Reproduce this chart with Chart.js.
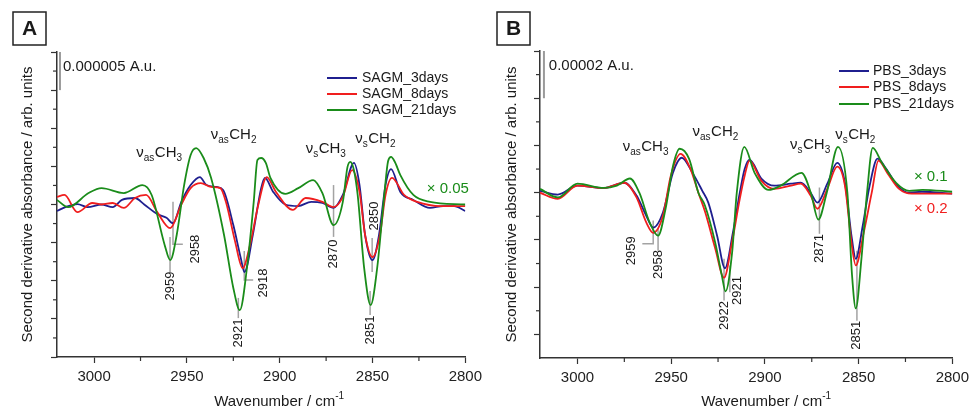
<!DOCTYPE html>
<html>
<head>
<meta charset="utf-8">
<script src="https://cdn.jsdelivr.net/npm/chart.js@4.4.0/dist/chart.umd.min.js"></script>
<style>
body { margin: 0; background: #fff; }
#wrap { position: relative; width: 974px; height: 411px; }
.panel { position: absolute; top: 0; width: 487px; height: 411px; }
</style>
</head>
<body>
<div id="wrap">
  <div class="panel" style="left:0"><canvas id="chartA"></canvas></div>
  <div class="panel" style="left:487px"><canvas id="chartB"></canvas></div>
</div>
<script>
// ---- data (wavenumber / cm-1, second derivative in arb. units) ----
const xTicks = [3000, 2950, 2900, 2850, 2800]
const xMinor = [2975, 2925, 2875, 2825]

// panel A : SAGM
const sagm3Wn = [3020, 3015.5, 3009, 3003.5, 2996, 2990, 2985, 2978, 2973, 2966, 2961, 2957.5, 2953, 2948, 2943, 2939.5, 2934, 2930.5, 2925, 2921, 2919, 2914.5, 2910, 2908, 2903.5, 2897, 2890, 2883, 2877, 2871, 2866, 2860, 2857, 2854, 2850, 2846.5, 2843, 2840, 2835, 2828, 2819, 2812, 2806, 2800]
const sagm3Val = [-0.17, -0.07, 0.01, -0.07, 0.00, -0.07, 0.12, 0.17, 0.00, -0.25, -0.35, -0.49, 0.07, 0.51, 0.72, 0.51, 0.46, 0.38, -0.54, -1.40, -1.77, -0.80, 0.43, 0.70, 0.33, 0.00, -0.04, 0.07, 0.04, -0.09, 0.25, 1.09, 0.51, -0.80, -1.46, -0.80, 0.51, 0.93, 0.33, 0.12, -0.09, -0.04, -0.04, -0.17]

const sagm8Wn = [3020, 3016, 3009, 3001, 2996, 2990, 2984, 2978, 2972, 2966, 2959, 2953, 2948, 2942.5, 2937, 2932, 2929, 2924, 2920, 2916, 2911.5, 2907, 2902, 2893, 2886, 2877, 2871, 2866, 2861, 2857, 2854, 2850, 2846, 2843, 2839.5, 2833, 2826, 2813, 2800]
const sagm8Val = [0.20, 0.25, -0.20, 0.04, 0.00, 0.04, -0.09, 0.17, 0.25, -0.20, -0.62, 0.00, 0.43, 0.56, 0.46, 0.43, 0.07, -0.98, -1.67, -1.06, 0.00, 0.72, 0.33, -0.14, 0.17, 0.07, -0.07, 0.20, 0.90, 0.33, -0.80, -1.38, -0.80, 0.25, 0.70, 0.25, 0.07, -0.04, -0.04]

const sagm21Wn = [3020, 3014, 3003, 2996, 2984, 2974, 2969, 2962, 2959, 2955.5, 2951.5, 2948, 2945, 2941, 2937, 2930, 2925, 2921.5, 2917.5, 2914, 2912, 2910, 2907.5, 2905, 2897, 2890, 2882, 2877, 2871, 2866, 2863.5, 2862, 2860, 2858, 2854.5, 2851, 2847.5, 2844, 2841.6, 2840, 2838, 2835, 2828, 2819, 2800]
const sagm21Val = [0.12, -0.07, 0.30, 0.43, 0.30, 0.51, 0.25, -1.06, -1.46, -0.80, 0.51, 1.30, 1.48, 1.22, 0.70, -0.80, -2.19, -2.77, -1.60, 0.07, 1.17, 1.22, 1.09, 0.70, 0.28, 0.43, 0.64, 0.30, -0.54, 0.07, 0.98, 1.12, 0.90, 0.25, -1.67, -2.64, -1.67, 0.07, 1.14, 1.25, 1.12, 0.77, 0.25, 0.07, 0.00]

// panel B : PBS
const pbs3Wn = [3020, 3010.5, 3000, 2986, 2975, 2968.5, 2963.3, 2959.6, 2954.4, 2949.1, 2944.4, 2938.6, 2933.4, 2930.2, 2925.5, 2921.3, 2917.1, 2913.4, 2910.8, 2908.2, 2901.9, 2895, 2886.1, 2880.9, 2875.6, 2872, 2866.7, 2861.4, 2857.3, 2853.6, 2851.5, 2847.8, 2844.1, 2839.9, 2835.2, 2829.4, 2823.1, 2816.3, 2800]
const pbs3Val = [0.04, -0.04, 0.15, 0.10, 0.21, -0.06, -0.49, -0.74, -0.42, 0.42, 0.74, 0.42, 0.04, -0.21, -0.91, -1.60, -0.85, 0.00, 0.50, 0.70, 0.30, 0.15, 0.19, 0.21, 0.00, -0.21, 0.19, 0.63, 0.21, -0.97, -1.40, -0.70, 0.15, 0.72, 0.50, 0.15, 0.00, 0.02, -0.02]

const pbs8Wn = [3020, 3010.5, 3000, 2986, 2975, 2968.5, 2963.3, 2959.6, 2954.4, 2950.2, 2945, 2939.7, 2935.5, 2931.8, 2926.5, 2921.8, 2917.6, 2913.4, 2910.8, 2908.2, 2901.9, 2895, 2886.1, 2880.9, 2875.6, 2872, 2866.7, 2861.4, 2857.3, 2853.6, 2851.5, 2847.3, 2843, 2839.4, 2834.7, 2828.4, 2821.6, 2800]
const pbs8Val = [0.00, -0.13, 0.15, 0.10, 0.21, -0.10, -0.63, -0.85, -0.49, 0.36, 0.82, 0.50, 0.00, -0.42, -1.18, -1.80, -1.06, -0.13, 0.36, 0.68, 0.25, 0.08, 0.15, 0.19, -0.06, -0.34, 0.08, 0.55, 0.15, -1.12, -1.54, -0.85, 0.00, 0.68, 0.42, 0.08, -0.02, -0.02]

const pbs21Wn = [3020, 3010.5, 3000, 2986, 2979, 2972, 2967, 2961.5, 2957, 2953, 2949, 2945.5, 2940.5, 2935.5, 2932, 2926.5, 2923, 2921, 2917.5, 2915, 2911, 2905.5, 2898, 2891.5, 2880.5, 2875.5, 2871.5, 2867, 2861, 2856, 2853.5, 2851.5, 2848.5, 2845.5, 2842.5, 2837.5, 2830, 2823, 2816, 2800]
const pbs21Val = [0.08, -0.10, 0.19, 0.10, 0.15, 0.30, 0.00, -0.63, -0.91, -0.34, 0.57, 0.93, 0.72, 0.00, -0.27, -1.06, -1.75, -2.09, -1.27, 0.00, 0.97, 0.42, 0.06, 0.15, 0.42, 0.00, -0.57, 0.00, 0.97, 0.00, -1.75, -2.45, -1.40, 0.00, 0.95, 0.63, 0.21, 0.04, 0.06, 0.02]

const FONT = '"Liberation Sans", Arial, sans-serif'
const BLUE = '#1f1f8f', RED = '#f01e1e', GREEN = '#1a8c1a'

function pts(wn, val) {
	return wn.map((w, i) => ({ x: w, y: val[i] }))
}

function series(label, wn, val, color, order) {
	return {
		label: label, data: pts(wn, val), borderColor: color, borderWidth: 1.8,
		pointRadius: 0, fill: false, cubicInterpolationMode: 'monotone', order: order
	}
}

function seg(ctx, x1, y1, x2, y2) {
	ctx.beginPath(); ctx.moveTo(x1, y1); ctx.lineTo(x2, y2); ctx.stroke()
}

function drawBand(ctx, x, y, sub, num) {
	let cx = x
	const big = '15px ' + FONT, small = '10px ' + FONT
	ctx.font = big; ctx.fillText('ν', cx, y); cx += ctx.measureText('ν').width
	ctx.font = small; ctx.fillText(sub, cx, y + 4); cx += ctx.measureText(sub).width + 0.5
	ctx.font = big; ctx.fillText('CH', cx, y); cx += ctx.measureText('CH').width
	ctx.font = small; ctx.fillText(num, cx, y + 4)
}

const extras = {
	id: 'extras',
	beforeDatasetsDraw(chart, args, o) {
		const ctx = chart.ctx, xs = chart.scales.x, ys = chart.scales.y, ca = chart.chartArea
		const X = v => xs.getPixelForValue(v), Y = v => ys.getPixelForValue(v)
		ctx.save()
		// peak marker lines
		ctx.strokeStyle = '#a3a3a3'; ctx.lineWidth = 1.5
		o.markers.forEach(m => {
			ctx.beginPath()
			m.path.forEach((p, i) => i ? ctx.lineTo(X(p[0]), Y(p[1])) : ctx.moveTo(X(p[0]), Y(p[1])))
			ctx.stroke()
		})
		// scale bar
		ctx.strokeStyle = '#9a9a9a'; ctx.lineWidth = 2
		seg(ctx, X(o.bar.wn), Y(o.bar.from), X(o.bar.wn), Y(o.bar.to))
		ctx.restore()
	},
	afterDraw(chart, args, o) {
		const ctx = chart.ctx, xs = chart.scales.x, ys = chart.scales.y, ca = chart.chartArea
		const X = v => xs.getPixelForValue(v), Y = v => ys.getPixelForValue(v)
		ctx.save()
		// minor ticks
		ctx.strokeStyle = '#333'; ctx.lineWidth = 1.2
		xMinor.forEach(v => seg(ctx, X(v), ca.bottom, X(v), ca.bottom + 4))
		o.minorY.forEach(v => seg(ctx, ca.left - 4, Y(v), ca.left, Y(v)))

		// peak labels
		ctx.fillStyle = '#1a1a1a'; ctx.font = '13px ' + FONT
		ctx.textAlign = 'center'; ctx.textBaseline = 'middle'
		o.markers.forEach(m => {
			ctx.save(); ctx.translate(X(m.at[0]), Y(m.at[1])); ctx.rotate(-Math.PI / 2)
			ctx.fillText(m.text, 0, 0); ctx.restore()
		})

		// band assignments
		ctx.textAlign = 'left'; ctx.textBaseline = 'alphabetic'; ctx.fillStyle = '#1a1a1a'
		o.bands.forEach(b => drawBand(ctx, X(b.at[0]), Y(b.at[1]), b.sub, b.num))

		// scaling factors
		ctx.font = '15px ' + FONT
		o.factors.forEach(f => { ctx.fillStyle = f.color; ctx.fillText(f.text, X(f.at[0]), Y(f.at[1])) })

		// scale bar text
		ctx.fillStyle = '#1a1a1a'; ctx.textBaseline = 'middle'
		ctx.fillText(o.bar.text, X(o.bar.textAt[0]), Y(o.bar.textAt[1]))

		// legend
		const lg = o.legend
		ctx.font = '14px ' + FONT
		chart.data.datasets.forEach((d, i) => {
			const y = lg.rows[i]
			ctx.strokeStyle = d.borderColor; ctx.lineWidth = 2
			seg(ctx, lg.x0, y, lg.x1, y)
			ctx.fillStyle = '#1a1a1a'
			ctx.fillText(d.label, lg.tx, y)
		})

		// axis titles
		ctx.font = '15px ' + FONT
		ctx.save()
		ctx.translate(o.yTitleX, (ca.top + ca.bottom) / 2); ctx.rotate(-Math.PI / 2)
		ctx.textAlign = 'center'
		ctx.fillText('Second derivative absorbance / arb. units', 0, 0)
		ctx.restore()
		const t1 = 'Wavenumber / cm', t2 = '-1'
		ctx.font = '15px ' + FONT
		const w1 = ctx.measureText(t1).width
		ctx.font = '10px ' + FONT
		const w2 = ctx.measureText(t2).width
		const cx = (ca.left + ca.right) / 2 + o.xTitleShift - (w1 + w2) / 2
		ctx.textAlign = 'left'
		ctx.font = '15px ' + FONT; ctx.fillText(t1, cx, 402)
		ctx.font = '10px ' + FONT; ctx.fillText(t2, cx + w1, 396)

		// panel letter
		const p = o.panel
		ctx.strokeStyle = '#222'; ctx.lineWidth = 1.5
		ctx.strokeRect(p.x, p.y, 33, 33)
		ctx.font = 'bold 21px ' + FONT; ctx.textAlign = 'center'
		ctx.fillText(p.text, p.x + 16.5, p.y + 17.5)
		ctx.restore()
	}
}

function makeChart(id, sets, yMin, yMax, yMajor, cfg) {
	return new Chart(document.getElementById(id), {
		type: 'line',
		data: { datasets: sets },
		options: {
			responsive: true, maintainAspectRatio: false, animation: false, devicePixelRatio: 1,
			layout: { padding: { top: cfg.top, right: cfg.right, left: 0, bottom: 0 } },
			plugins: { legend: { display: false }, tooltip: { enabled: false }, extras: cfg },
			scales: {
				x: {
					type: 'linear', min: 2800, max: 3020, reverse: true,
					afterBuildTicks: s => { s.ticks = xTicks.map(v => ({ value: v })) },
					afterFit: s => { s.height = cfg.bottomH },
					ticks: { color: '#222', font: { family: FONT, size: 15 }, padding: 5, maxRotation: 0, autoSkip: false, callback: v => String(v) },
					grid: { drawOnChartArea: false, drawTicks: true, tickLength: 6, color: '#333', tickWidth: 1.2 },
					border: { display: true, color: '#333', width: 1.5 }
				},
				y: {
					type: 'linear', min: yMin, max: yMax,
					afterBuildTicks: s => { s.ticks = yMajor.map(v => ({ value: v })) },
					afterFit: s => { s.width = cfg.leftW },
					ticks: { display: false },
					grid: { drawOnChartArea: false, drawTicks: true, tickLength: 6, color: '#333', tickWidth: 1.2 },
					border: { display: true, color: '#333', width: 1.5 }
				}
			}
		},
		plugins: [extras]
	})
}

makeChart('chartA', [
	series('SAGM_3days', sagm3Wn, sagm3Val, BLUE, 3),
	series('SAGM_8days', sagm8Wn, sagm8Val, RED, 2),
	series('SAGM_21days', sagm21Wn, sagm21Val, GREEN, 1)
], -4, 4, [-4, -3, -2, -1, 0, 1, 2, 3, 4], {
	top: 52, right: 18, leftW: 57, bottomH: 54, yTitleX: 28, xTitleShift: 18,
	minorY: [-3.5, -2.5, -1.5, -0.5, 0.5, 1.5, 2.5, 3.5],
	panel: { x: 13, y: 12, text: 'A' },
	bar: { wn: 3018.4, from: 4, to: 3, text: '0.000005 A.u.', textAt: [3016.8, 3.61] },
	legend: { x0: 327, x1: 357, tx: 362, rows: [78, 94, 110] },
	markers: [
		{ text: '2959', path: [[2959.1, -0.85], [2959.1, -1.77]], at: [2959.1, -2.14] },
		{ text: '2958', path: [[2957.5, 0.07], [2957.5, -1.04], [2952.2, -1.04]], at: [2945.2, -1.17] },
		{ text: '2921', path: [[2922.3, -2.45], [2922.3, -2.98]], at: [2922.3, -3.37] },
		{ text: '2918', path: [[2919.1, -1.22], [2919.1, -1.98], [2914.3, -1.98]], at: [2909, -2.06] },
		{ text: '2870', path: [[2871, 0.51], [2871, -0.85]], at: [2871, -1.3] },
		{ text: '2850', path: [[2850.2, -0.88], [2850.2, -1.77]], at: [2849.2, -0.3] },
		{ text: '2851', path: [[2851.3, -2.27], [2851.3, -2.9]], at: [2851.3, -3.29] }
	],
	bands: [
		{ sub: 'as', num: '3', at: [2977.3, 1.25] },
		{ sub: 'as', num: '2', at: [2937.2, 1.72] },
		{ sub: 's', num: '3', at: [2886, 1.35] },
		{ sub: 's', num: '2', at: [2859.3, 1.61] }
	],
	factors: [{ text: '× 0.05', color: GREEN, at: [2820.8, 0.30] }]
})

makeChart('chartB', [
	series('PBS_3days', pbs3Wn, pbs3Val, BLUE, 3),
	series('PBS_8days', pbs8Wn, pbs8Val, RED, 2),
	series('PBS_21days', pbs21Wn, pbs21Val, GREEN, 1)
], -3.5, 3, [-3, -2, -1, 0, 1, 2, 3], {
	top: 51, right: 15, leftW: 53, bottomH: 53, yTitleX: 25, xTitleShift: 20,
	minorY: [-2.5, -1.5, -0.5, 0.5, 1.5, 2.5],
	panel: { x: 10, y: 12, text: 'B' },
	bar: { wn: 3017.9, from: 3, to: 2, text: '0.00002 A.u.', textAt: [3015.3, 2.68] },
	legend: { x0: 352, x1: 382, tx: 386, rows: [71, 87, 104] },
	markers: [
		{ text: '2959', path: [[2965.4, -1.08], [2959.6, -1.08], [2959.6, -0.59]], at: [2971.2, -1.23] },
		{ text: '2958', path: [[2957, -0.76], [2957, -1.23]], at: [2957, -1.52] },
		{ text: '2922', path: [[2921.8, -1.4], [2921.8, -2.28]], at: [2921.8, -2.6] },
		{ text: '2921', path: [[2918.7, -1.54], [2918.7, -2.11]], at: [2914.7, -2.07] },
		{ text: '2871', path: [[2870.9, 0.11], [2870.9, -0.87]], at: [2870.9, -1.18] },
		{ text: '2851', path: [[2850.9, -1.23], [2850.9, -2.71]], at: [2850.9, -3.02] }
	],
	bands: [
		{ sub: 'as', num: '3', at: [2975.9, 0.89] },
		{ sub: 'as', num: '2', at: [2938.6, 1.20] },
		{ sub: 's', num: '3', at: [2886.6, 0.93] },
		{ sub: 's', num: '2', at: [2862.5, 1.14] }
	],
	factors: [
		{ text: '× 0.1', color: GREEN, at: [2820.5, 0.25] },
		{ text: '× 0.2', color: RED, at: [2820.5, -0.42] }
	]
})
</script>
</body>
</html>
